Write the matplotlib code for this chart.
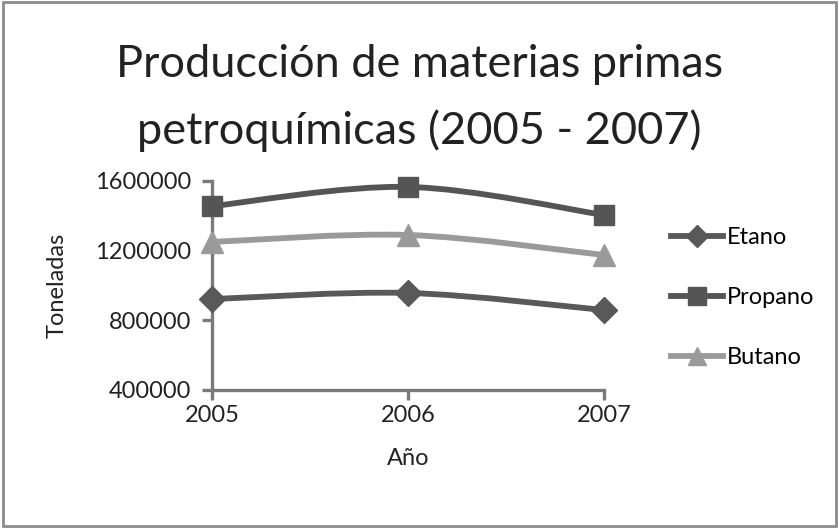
import numpy as np
import matplotlib
matplotlib.use("Agg")
import matplotlib.pyplot as plt
from matplotlib.path import Path
from matplotlib.patches import PathPatch, Rectangle
from matplotlib.lines import Line2D

plt.rcParams['font.family'] = ['Lato', 'DejaVu Sans']

years = [2005, 2006, 2007]
etano = [922000, 957000, 859000]
propano = [1456000, 1566000, 1405000]
butano = [1250000, 1290000, 1175000]

series = [
    ("Etano", etano, "#595959", "D", 13),
    ("Propano", propano, "#555555", "s", 15),
    ("Butano", butano, "#9a9a9a", "^", 16),
]


def smooth_path(x, y, t=1.0 / 6):
    # catmull-rom style bezier through the points (like excel smoothed lines)
    x = np.asarray(x, float)
    y = np.asarray(y, float)
    verts = [(x[0], y[0])]
    codes = [Path.MOVETO]
    n = len(x)
    for i in range(n - 1):
        p0 = (x[max(i - 1, 0)], y[max(i - 1, 0)])
        p1 = (x[i], y[i])
        p2 = (x[i + 1], y[i + 1])
        p3 = (x[min(i + 2, n - 1)], y[min(i + 2, n - 1)])
        c1 = (p1[0] + (p2[0] - p0[0]) * t, p1[1] + (p2[1] - p0[1]) * t)
        c2 = (p2[0] - (p3[0] - p1[0]) * t, p2[1] - (p3[1] - p1[1]) * t)
        verts += [c1, c2, p2]
        codes += [Path.CURVE4] * 3
    return Path(verts, codes)


fig = plt.figure(figsize=(8.39, 5.28), dpi=100)
ax = fig.add_axes([0.2527, 0.2614, 0.4672, 0.3958])

handles = []
for name, vals, col, mk, ms in series:
    ax.add_patch(PathPatch(smooth_path(years, vals), facecolor='none',
                           edgecolor=col, lw=4.2, capstyle='round', zorder=3))
    ax.plot(years, vals, linestyle='none', marker=mk, ms=ms, color=col,
            zorder=4, clip_on=False)
    handles.append(Line2D([], [], color=col, lw=4.2, marker=mk, ms=ms * 0.85))

ax.set_xlim(2005, 2007)
ax.set_ylim(400000, 1600000)
ax.set_xticks(years)
ax.set_yticks([400000, 800000, 1200000, 1600000])
ax.set_yticklabels(["400000", "800000", "1200000", "1600000"])

for s in ['top', 'right']:
    ax.spines[s].set_visible(False)
for s in ['left', 'bottom']:
    ax.spines[s].set_color('#7a7a7a')
    ax.spines[s].set_linewidth(2.4)
ax.tick_params(axis='both', colors='#7a7a7a', width=2.4, length=7,
               labelsize=17, labelcolor='#222222', direction='out')
ax.tick_params(axis='x', pad=4)
ax.tick_params(axis='y', pad=8)

ax.set_xlabel("Año", fontsize=17, color='#222222', labelpad=16)
ax.set_ylabel("Toneladas", fontsize=17, color='#222222', labelpad=20)

fig.text(0.5, 0.877, "Producción de materias primas", ha='center',
         va='center', fontsize=32.5, color='#222222')
fig.text(0.5, 0.752, "petroquímicas (2005 - 2007)", ha='center',
         va='center', fontsize=32.5, color='#222222')

fig.legend(handles, [s[0] for s in series], loc='center left',
           bbox_to_anchor=(0.8, 0.436), frameon=False, fontsize=17,
           handlelength=2.2, handletextpad=0.15, labelspacing=1.65,
           borderaxespad=0, borderpad=0)

fig.patches.append(Rectangle((0.003, 0.004), 0.994, 0.992,
                             transform=fig.transFigure, fill=False,
                             edgecolor='#8c8c8c', lw=2))

fig.savefig("out.png", dpi=100)
